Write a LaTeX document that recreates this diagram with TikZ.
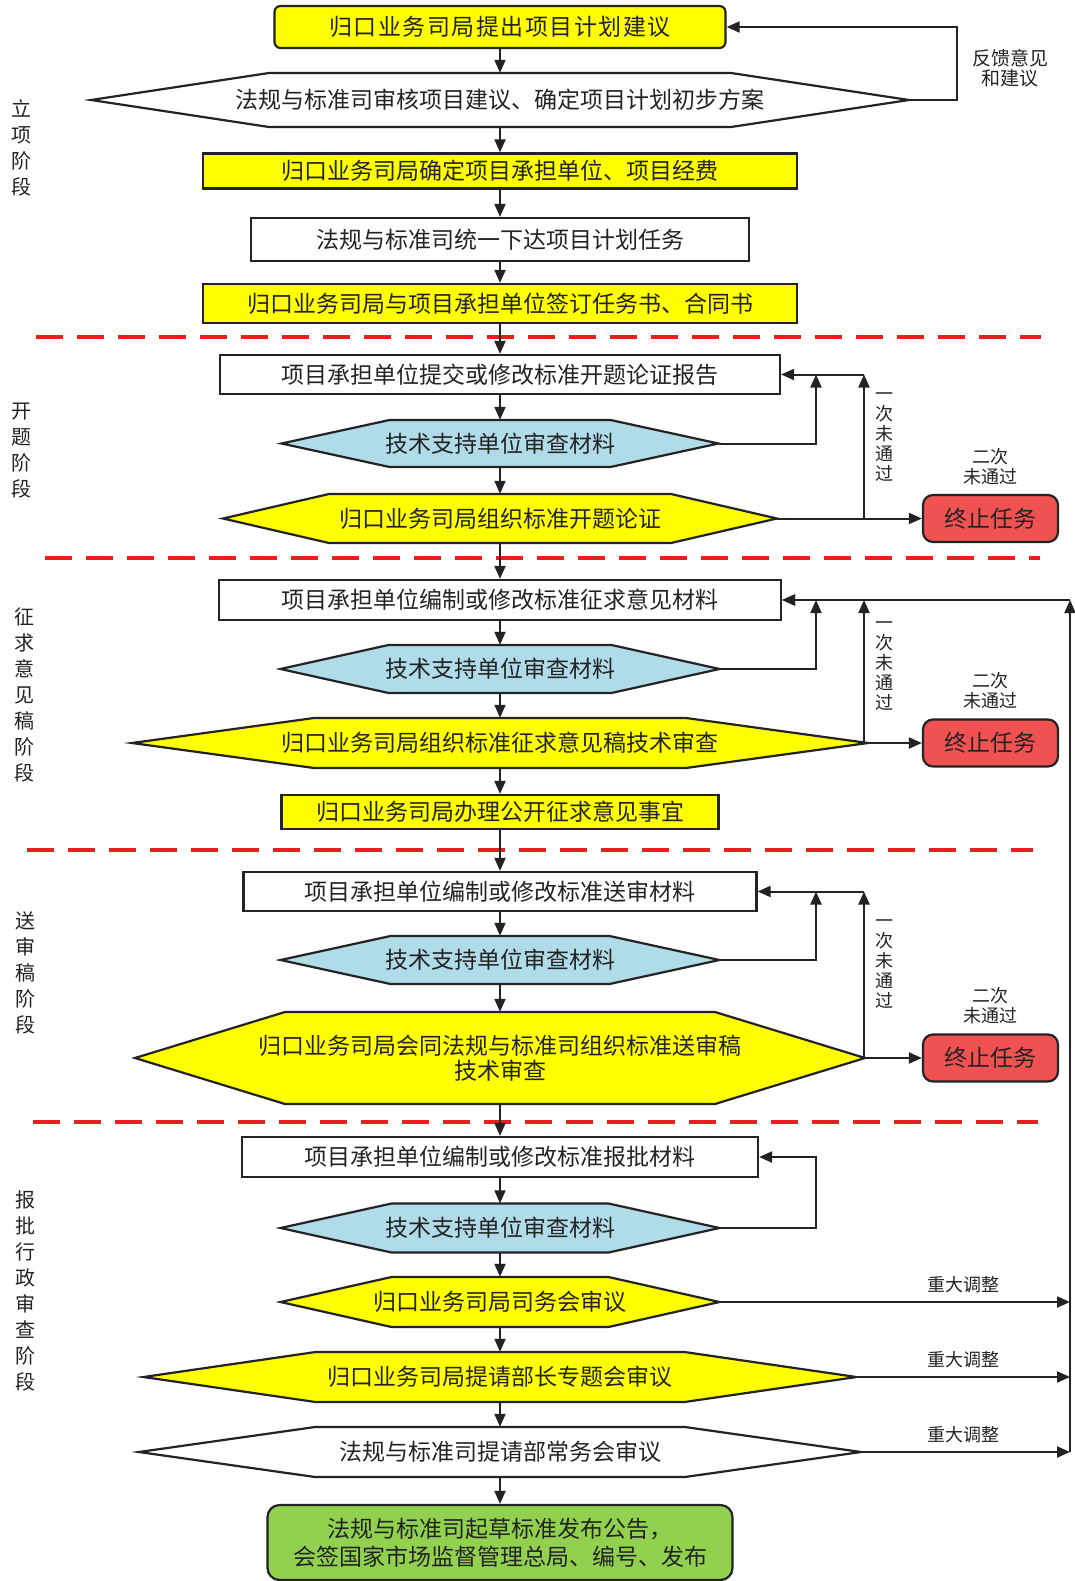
\documentclass[tikz,border=0pt]{standalone}
\usepackage{fontspec}
\setmainfont{Noto Sans CJK SC}
\newfontfamily\widefont{Noto Sans CJK SC}[LetterSpace=6.5]
\usepackage{tikz}
\usetikzlibrary{arrows.meta,positioning}
\definecolor{hi}{RGB}{255,255,0}
\definecolor{sky}{RGB}{176,219,232}
\definecolor{stopred}{RGB}{240,82,82}
\definecolor{done}{RGB}{146,208,80}
\definecolor{cutred}{RGB}{235,30,30}
\definecolor{ink}{RGB}{35,35,35}

% hexagon: name, y, half width, inset, half height, fill, text
\newcommand{\hexa}[7]{%
\filldraw[bd,fill=#6] (500-#3,#2) -- (500-#3+#4,#2-#5) -- (500+#3-#4,#2-#5)
  -- (500+#3,#2) -- (500+#3-#4,#2+#5) -- (500-#3+#4,#2+#5) -- cycle;
\node[tx,minimum width=2*#3pt,minimum height=2*#5pt] (#1) at (500,#2) {#7};}

\begin{document}
\begin{tikzpicture}[x=1pt,y=-1pt,>={Triangle[length=13pt,width=11pt]},
tx/.style={inner sep=0pt,align=center,text=ink,font=\fontsize{23}{25}\selectfont},
bd/.style={draw=ink,line width=2.2pt},
bx/.style={tx,bd}, yb/.style={bx,fill=hi}, wb/.style={bx,fill=white},
stopbox/.style={bx,rounded corners=10pt,fill=stopred,minimum width=135pt,minimum height=47pt},
ln/.style={draw=ink,line width=2pt},
note/.style={align=center,text=ink,inner sep=0pt,font=\fontsize{18}{20}\selectfont},
stage/.style={align=center,text=ink,inner sep=0pt,font=\fontsize{20}{26}\selectfont},
cutline/.style={draw=cutred,line width=4pt,dash pattern=on 27pt off 14pt}]
\useasboundingbox (0,0) rectangle (1074,1581);
\foreach \y/\xa/\xb in {337/36/1041,558/45/1040,850/27/1033,1122/33/1038}
  \draw[cutline] (\xa,\y) -- (\xb,\y);
% stages
\node[stage] (s1) at (22,148) {立\\项\\阶\\段};
\node[stage] (s2) at (22,451) {开\\题\\阶\\段};
\node[stage] (s3) at (24,695) {征\\求\\意\\见\\稿\\阶\\段};
\node[stage] (s4) at (25,973) {送\\审\\稿\\阶\\段};
\node[stage] (s5) at (25,1291) {报\\批\\行\\政\\审\\查\\阶\\段};
% 立项
\node[yb,rounded corners=6pt,minimum width=451pt,minimum height=42pt,
  font=\widefont\fontsize{23}{25}\selectfont] (a1) at (500,27) {归口业务司局提出项目计划建议};
\hexa{a2}{100}{409}{178}{27}{white}{法规与标准司审核项目建议、确定项目计划初步方案}
\node[yb,minimum width=594pt,minimum height=35pt] (a3) at (500,171) {归口业务司局确定项目承担单位、项目经费};
\node[wb,minimum width=498pt,minimum height=43pt] (a4) at (500,239.5) {法规与标准司统一下达项目计划任务};
\node[yb,minimum width=594pt,minimum height=39pt] (a5) at (500,303.5) {归口业务司局与项目承担单位签订任务书、合同书};
\coordinate (fb) at (957,27);
\draw[ln,->] (a2.east) -| (fb) -- (a1.east);
\node[note,font=\fontsize{19}{20}\selectfont] (a6) at (1010,68) {反馈意见\\和建议};
% 开题
\node[wb,minimum width=560pt,minimum height=39pt] (b1) at (500,374.5) {项目承担单位提交或修改标准开题论证报告};
\hexa{b2}{443.5}{218.5}{108}{23.5}{sky}{技术支持单位审查材料}
\hexa{b3}{518.5}{277}{106}{24.5}{hi}{归口业务司局组织标准开题论证}
\node[stopbox] (b4) at (990.5,518.5) {终止任务};
% 征求意见稿
\node[wb,minimum width=562pt,minimum height=40pt] (c1) at (500,600) {项目承担单位编制或修改标准征求意见材料};
\hexa{c2}{669}{219.5}{108}{24}{sky}{技术支持单位审查材料}
\hexa{c3}{743}{368}{182}{25}{hi}{归口业务司局组织标准征求意见稿技术审查}
\node[stopbox] (c4) at (990.5,743) {终止任务};
\node[yb,minimum width=437pt,minimum height=34pt] (c5) at (500,812) {归口业务司局办理公开征求意见事宜};
% 送审稿
\node[wb,minimum width=513pt,minimum height=39pt] (d1) at (500,891.5) {项目承担单位编制或修改标准送审材料};
\hexa{d2}{960}{219.5}{110}{24}{sky}{技术支持单位审查材料}
\hexa{d3}{1058}{365}{150}{46}{hi}{归口业务司局会同法规与标准司组织标准送审稿\\技术审查}
\node[stopbox] (d4) at (990.5,1058) {终止任务};
% 报批
\node[wb,minimum width=516pt,minimum height=40pt] (e1) at (500,1157) {项目承担单位编制或修改标准报批材料};
\hexa{e2}{1228}{219.5}{111}{24.5}{sky}{技术支持单位审查材料}
\hexa{e3}{1302}{219.5}{111}{25}{hi}{归口业务司局司务会审议}
\hexa{e4}{1377}{356.5}{172}{25}{hi}{归口业务司局提请部长专题会审议}
\hexa{e5}{1452}{361}{176}{25}{white}{法规与标准司提请部常务会审议}
\node[bx,fill=done,rounded corners=12pt,minimum width=465pt,minimum height=75pt,
  font=\fontsize{23}{28}\selectfont] (e6) at (500,1542.5) {法规与标准司起草标准发布公告，\\会签国家市场监督管理总局、编号、发布};
% main flow
\foreach \u/\v in {a1/a2,a2/a3,a3/a4,a4/a5,a5/b1,b1/b2,b2/b3,b3/c1,c1/c2,c2/c3,c3/c5,
  c5/d1,d1/d2,d2/d3,d3/e1,e1/e2,e2/e3,e3/e4,e4/e5,e5/e6}
  \draw[ln,->] (\u.south) -- (\v.north);
% review loops
\coordinate (k1) at (816,0); \coordinate (k2) at (864,0); \coordinate (rt) at (1070,0);
\foreach \s/\ly in {b/437,c/666,d/964}{
  \draw[ln,->] (\s2.east) -| (k1 |- \s1.east);
  \draw[ln,->] (\s3.east) -| (k2 |- \s1.east);
  \draw[ln,->] (k2 |- \s1.east) -- (\s1.east);
  \draw[ln,->] (\s3.east) -- (\s4.west);
  \node[note] (\s5) at (884,\ly) {一\\次\\未\\通\\过};
  \node[note,above=9pt of \s4] (\s6) {二次\\未通过};
}
\draw[ln,->] (e2.east) -| (k1 |- e1.east) -- (e1.east);
\foreach \s/\y in {e3/1302,e4/1377,e5/1452}{
  \draw[ln,->] (\s.east) -- (rt |- \s.east);
  \node[note] (t\s) at (963,\y-17) {重大调整};
}
\draw[ln,->] (rt |- e5.east) -- (rt |- c1.east);
\draw[ln,->] (rt |- c1.east) -- (c1.east);
\end{tikzpicture}
\end{document}
